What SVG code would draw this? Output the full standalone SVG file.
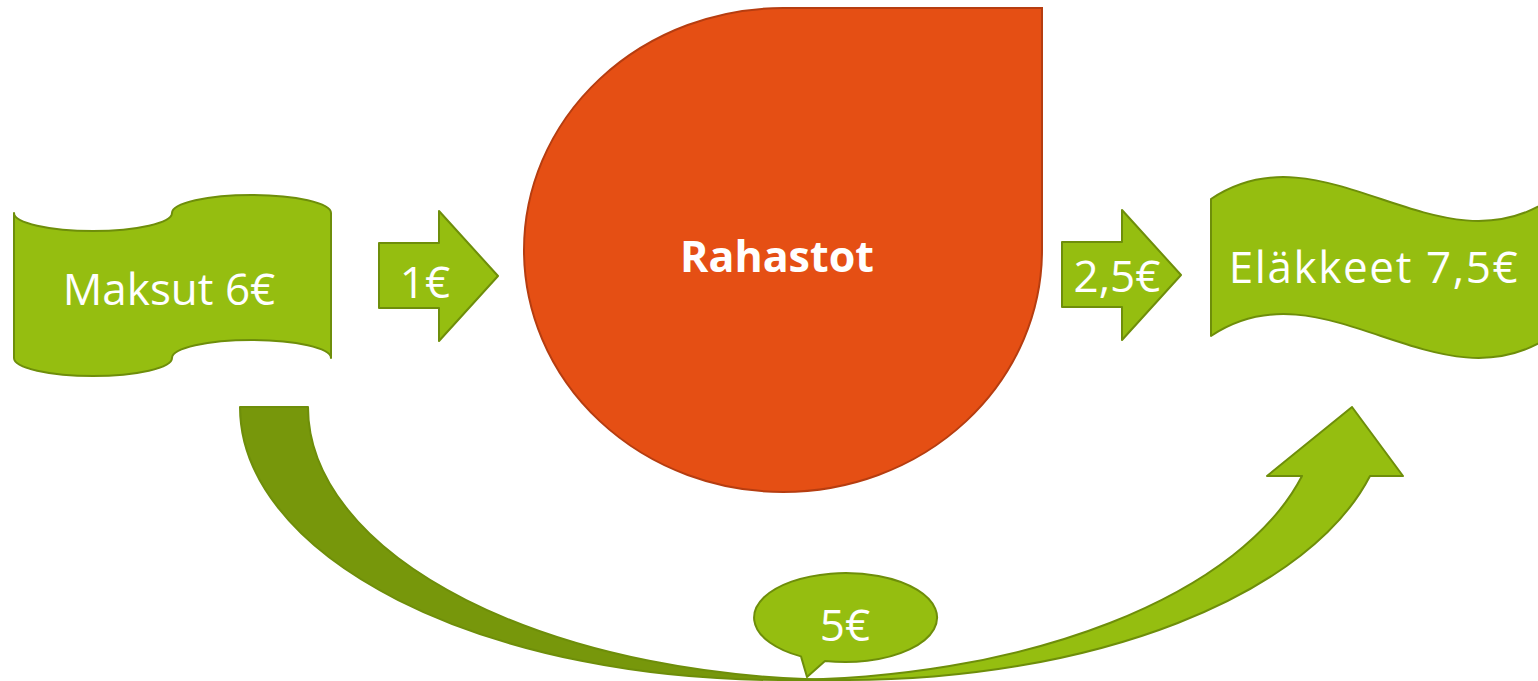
<svg xmlns="http://www.w3.org/2000/svg" width="1538" height="681" viewBox="0 0 1538 681">
  <style>
    .green { fill: #95BE10; stroke: #6E8E0A; stroke-width: 2; stroke-linejoin: round; }
    .dark { fill: #77970B; stroke: #6E8E0A; stroke-width: 2; stroke-linejoin: round; }
    .orange { fill: #E54F14; stroke: #B63D10; stroke-width: 2; }
    .lbl { font-family: "Open Sans", "Noto Sans", sans-serif; font-size: 44px; fill: #FFFFFF; text-anchor: middle; }
    .bold { font-family: "Open Sans", "Liberation Sans", sans-serif; font-size: 43px; font-weight: bold; fill: #FFFFFF; text-anchor: middle; }
  </style>
  <rect width="1538" height="681" fill="#FFFFFF"/>

  <g id="connectors">
    <g id="curved-arrow">
      <path class="dark" d="M240,407 L308,407 A540,273 0 0 0 848,680 L780,680 A540,273 0 0 1 240,407 Z"/>
      <path class="green" d="M780,680 A540,273 0 0 0 1302,476 L1267,476 L1352,407 L1403,476 L1370,476 A540,273 0 0 1 848,680 Z"/>
    </g>
    <g id="arrow-1">
      <path class="green" d="M379,243 L439,243 L439,211 L498,276 L439,341 L439,308 L379,308 Z"/>
      <text class="lbl" x="425" y="298">1€</text>
    </g>
    <g id="arrow-2">
      <path class="green" d="M1062,242 L1122,242 L1122,210 L1181,275 L1122,340 L1122,307 L1062,307 Z"/>
      <text class="lbl" x="1117" y="292">2,5€</text>
    </g>
  </g>

  <g id="maksut">
    <path class="green" d="M14,213 A79,18 0 0 0 172,213 A79.5,18 0 0 1 331,213 L331,358 A79.5,18 0 0 0 172,358 A79,18 0 0 1 14,358 Z"/>
    <text class="lbl" x="169" y="305">Maksut 6€</text>
  </g>

  <g id="rahastot">
    <path class="orange" d="M783,8 L1042,8 L1042,250 A259,242 0 1 1 783,8 Z"/>
    <text class="bold" x="777" y="272">Rahastot</text>
  </g>

  <g id="elakkeet">
    <path class="green" d="M1211,199 C1324,123 1438,275 1551,199 L1551,336 C1438,412 1324,260 1211,336 Z"/>
    <text class="lbl" x="1374" y="283" letter-spacing="1.6">Eläkkeet 7,5€</text>
  </g>

  <g id="bubble">
    <path class="green" d="M801,656.4 A91.5,44.5 0 1 1 825,660.9 L807,677 Z"/>
    <text class="lbl" x="845" y="641">5€</text>
  </g>
</svg>
